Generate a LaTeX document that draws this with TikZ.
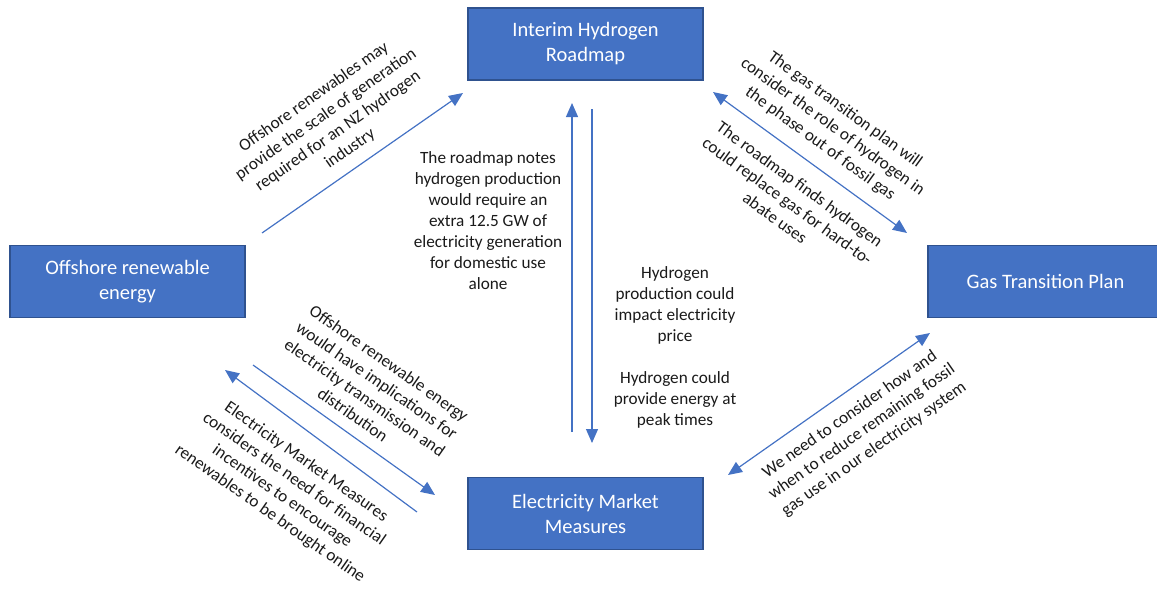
\documentclass[tikz,border=0pt]{standalone}
\usepackage{fontspec}
\setmainfont{Carlito}
\usetikzlibrary{arrows.meta}
\definecolor{planblue}{HTML}{4472C4}
\definecolor{planedge}{HTML}{2F528F}
\definecolor{notegray}{HTML}{1A1A1A}
\tikzset{
  plan/.style={draw=planedge, line width=1.5pt, fill=planblue, text=white, minimum width=235pt, minimum height=72pt, align=center, font=\fontsize{20.5}{25}\selectfont},
  link/.style={draw=planblue, line width=1.2pt, -{Triangle[length=14pt,width=12pt]}},
  twolink/.style={link, {Triangle[length=14pt,width=12pt]}-{Triangle[length=14pt,width=12pt]}},
  note/.style={align=center, text=notegray, inner sep=0pt, font=\fontsize{17.2}{21}\selectfont},
}

\begin{document}
\begin{tikzpicture}[x=1pt,y=-1pt]
            \useasboundingbox (0,0) rectangle (1157,589);
            \node[plan] (roadmap) at (585.5,44) {Interim Hydrogen\\Roadmap};
            \node[plan] (offshore) at (127.5,281.5) {Offshore renewable\\energy};
            \node[plan] (gasplan) at (1045.5,281.5) {Gas Transition Plan};
            \node[plan] (market) at (585.5,513.5) {Electricity Market\\Measures};
            \coordinate (offA) at (262,233); \coordinate (mapA) at (463,93);
            \coordinate (mapB) at (713,92); \coordinate (gasB) at (907,233);
            \coordinate (mapC) at (572,103); \coordinate (mktC) at (572,432);
            \coordinate (mapD) at (592,109); \coordinate (mktD) at (592,443);
            \coordinate (offE) at (253,365); \coordinate (mktE) at (435,495);
            \coordinate (offF) at (225,370); \coordinate (mktF) at (417,512);
            \coordinate (gasG) at (930,333); \coordinate (mktG) at (728,475);
            \draw[link] (offA) -- (mapA);
            \draw[twolink] (mapB) -- (gasB);
            \draw[link] (mktC) -- (mapC);
            \draw[link] (mapD) -- (mktD);
            \draw[link] (offE) -- (mktE);
            \draw[link] (mktF) -- (offF);
            \draw[twolink] (gasG) -- (mktG);
            \node[note, rotate=35] (scale) at (332,123) {Offshore renewables may\\provide the scale of generation\\required for an NZ hydrogen\\industry};
            \node[note, rotate=-36] (phaseout) at (832.5,127) {The gas transition plan will\\consider the role of hydrogen in\\the phase out of fossil gas};
            \node[note, rotate=-36] (replace) at (787.5,201) {The roadmap finds hydrogen\\could replace gas for hard-to-\\abate uses};
            \node[note] (extra) at (488,221) {The roadmap notes\\hydrogen production\\would require an\\extra 12.5 GW of\\electricity generation\\for domestic use\\alone};
            \node[note] (price) at (675,347.5) {Hydrogen\\production could\\impact electricity\\price\\[21pt]Hydrogen could\\provide energy at\\peak times};
            \node[note, rotate=-35] (grid) at (371,389) {Offshore renewable energy\\would have implications for\\electricity transmission and\\distribution};
            \node[note, rotate=-35] (incent) at (288,488) {Electricity Market Measures\\considers the need for financial\\incentives to encourage\\renewables to be brought online};
            \node[note, rotate=35] (fossil) at (862,432) {We need to consider how and\\when to reduce remaining fossil\\gas use in our electricity system};
        \end{tikzpicture}
\end{document}
